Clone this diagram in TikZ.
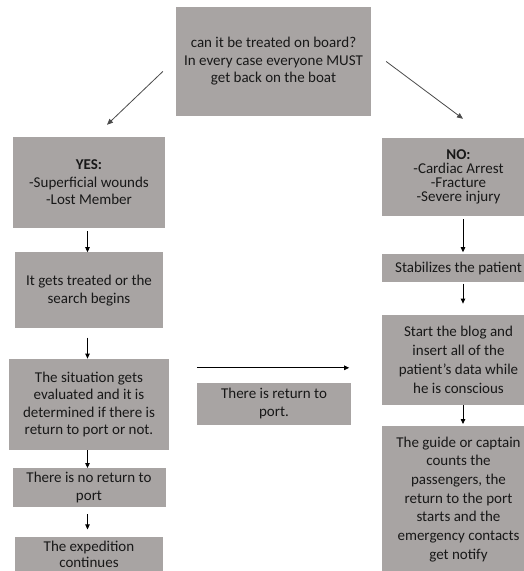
\documentclass[tikz,border=0pt]{standalone}
\usepackage{fontspec}
\setmainfont{Carlito}
\usepackage{tikz}
\usetikzlibrary{arrows.meta,positioning}
\definecolor{boatgray}{HTML}{A8A4A3}
\definecolor{boattext}{HTML}{181818}
\definecolor{boatarrow}{HTML}{4A4A4A}

\begin{document}
\begin{tikzpicture}[
  x=1pt, y=1pt,
  box/.style={fill=boatgray, text=boattext, align=center, inner sep=0pt,
              font=\fontsize{15}{17.5}\selectfont},
  tight/.style={font=\fontsize{15}{14}\selectfont},
  short/.style={font=\fontsize{15}{15.5}\selectfont},
  loose/.style={font=\fontsize{15}{18.7}\selectfont},
  arrow/.style={-{Triangle[length=5pt,width=4.5pt]}, line width=0.8pt, draw=black},
  slant/.style={-{Triangle[length=6pt,width=5pt]}, line width=0.8pt, draw=boatarrow}
]
  \useasboundingbox[fill=white] (0,0) rectangle (523,-571);

  \node[box, minimum width=195pt, minimum height=109pt] (question) at (273.5,-61.5)
    {can it be treated on board?\\In every case everyone MUST\\get back on the boat};

  % yes branch
  \node[box, minimum width=152pt, minimum height=91pt] (yes) at (89,-182.5)
    {\textbf{YES:}\\-Superficial wounds\\-Lost Member};
  \node[box, minimum width=148pt, minimum height=76pt, below=24pt of yes] (treat)
    {It gets treated or the\\search begins};
  \node[box, minimum width=160pt, minimum height=91pt, below=30pt of treat] (evaluate)
    {The situation gets\\evaluated and it is\\determined if there is\\return to port or not.};
  \node[box, minimum width=153pt, minimum height=39pt, below=18pt of evaluate] (noreturn)
    {There is no return to\\port};
  \node[box, short, minimum width=148pt, minimum height=35pt, below=29pt of noreturn] (expedition)
    {The expedition\\continues};

  % no branch
  \node[box, tight, minimum width=153pt, minimum height=78pt] (no) at (458.5,-177)
    {\textbf{NO:}\\-Cardiac Arrest\\-Fracture\\-Severe injury};
  \node[box, minimum width=153pt, minimum height=28pt, below=38pt of no] (stabilize)
    {Stabilizes the patient};
  \node[box, loose, minimum width=153pt, minimum height=90pt, below=32pt of stabilize] (blog)
    {Start the blog and\\insert all of the\\patient’s data while\\he is conscious};
  \node[box, loose, minimum width=153pt, minimum height=146pt, below=21pt of blog] (guide)
    {The guide or captain\\counts the\\passengers, the\\return to the port\\starts and the\\emergency contacts\\get notify};

  \node[box, minimum width=154pt, minimum height=42pt] (returnport) at (274,-403.5)
    {There is return to\\port.};

  \draw[slant] ([xshift=-13pt,yshift=-10pt]question.west) -- ([xshift=18pt,yshift=12pt]yes.north);
  \draw[slant] ([xshift=15pt]question.east) -- ([xshift=4.5pt,yshift=19pt]no.north);

  \draw[arrow] ([xshift=-1.5pt,yshift=-3pt]yes.south) -- ([xshift=-1.5pt]yes.south |- treat.north);
  \draw[arrow] ([xshift=-1.5pt,yshift=-9pt]treat.south) -- ([xshift=-1.5pt]treat.south |- evaluate.north);
  \draw[arrow] ([xshift=-1.5pt]evaluate.south) -- ([xshift=-1.5pt]evaluate.south |- noreturn.north);
  \draw[arrow] ([xshift=-1.5pt,yshift=-7pt]noreturn.south) -- ([xshift=-1.5pt,yshift=7pt]noreturn.south |- expedition.north);

  \draw[arrow] ([xshift=4.5pt,yshift=-3pt]no.south) -- ([xshift=4.5pt,yshift=2pt]no.south |- stabilize.north);
  \draw[arrow] ([xshift=4.5pt,yshift=-1pt]stabilize.south) -- ([xshift=4.5pt,yshift=11pt]stabilize.south |- blog.north);
  \draw[arrow] ([xshift=4.5pt]blog.south) -- ([xshift=4.5pt,yshift=2pt]blog.south |- guide.north);

  \draw[arrow] ([yshift=14.5pt]returnport.north west) -- ([xshift=-2pt,yshift=14.5pt]returnport.north east);
\end{tikzpicture}
\end{document}
